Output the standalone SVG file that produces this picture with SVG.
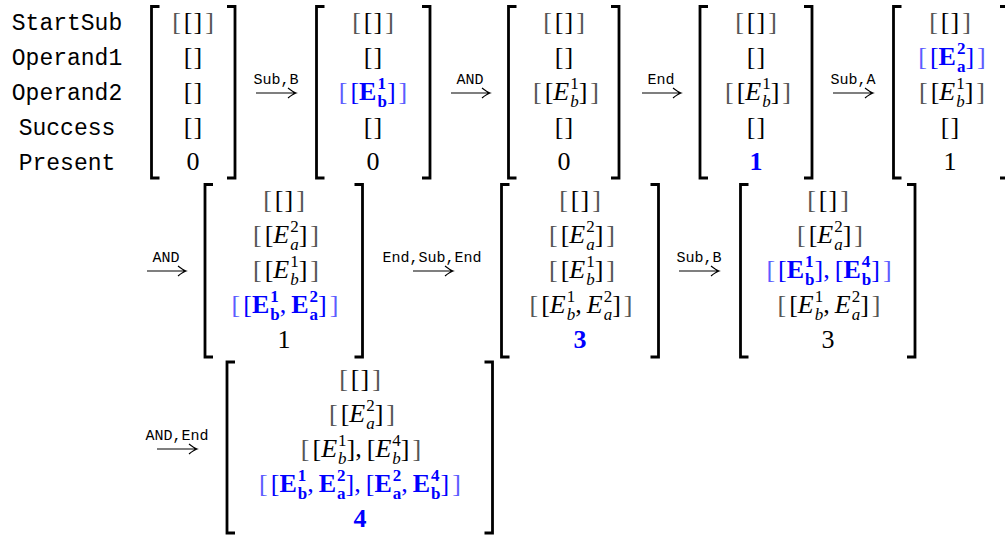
<svg xmlns="http://www.w3.org/2000/svg" width="1005" height="535" viewBox="0 0 1005 535">
<style>
.lb{font-family:"Liberation Mono",monospace;font-size:23px;fill:#000;text-anchor:middle}
.al{font-family:"Liberation Mono",monospace;font-size:15px;fill:#000;text-anchor:middle}
.m{font-family:"Liberation Serif",serif;font-size:26px;fill:#000;text-anchor:middle}
.o{fill:#555}
.blue{fill:#0000ff}
.blue .o{fill:#5c5cff}
.bf{font-weight:bold}
.i{font-style:italic}
.s{font-size:17px}
.br{fill:none;stroke:#000;stroke-width:2.8}
.ar{fill:none;stroke:#000;stroke-width:1.2}
</style>
<rect width="1005" height="535" fill="#fff"/>

<g id="row-labels">
<text class="lb" x="67" y="30">StartSub</text>
<text class="lb" x="67" y="65">Operand1</text>
<text class="lb" x="67" y="100">Operand2</text>
<text class="lb" x="67" y="135">Success</text>
<text class="lb" x="67" y="170">Present</text>
</g>

<g id="connectors">
<path class="ar" d="M256 93H296M288 88Q293 92 296 93Q293 94 288 98"/>
<text class="al" x="276" y="83.5">Sub,B</text>
<path class="ar" d="M451 93H490M482 88Q487 92 490 93Q487 94 482 98"/>
<text class="al" x="470" y="83.5">AND</text>
<path class="ar" d="M642 93H681M673 88Q678 92 681 93Q678 94 673 98"/>
<text class="al" x="661" y="83.5">End</text>
<path class="ar" d="M833 93H873M865 88Q870 92 873 93Q870 94 865 98"/>
<text class="al" x="853" y="83.5">Sub,A</text>
<path class="ar" d="M147 271H186M178 266Q183 270 186 271Q183 272 178 276"/>
<text class="al" x="166" y="262">AND</text>
<path class="ar" d="M413 271H453M445 266Q450 270 453 271Q450 272 445 276"/>
<text class="al" x="432" y="262">End,Sub,End</text>
<path class="ar" d="M679 271H719M711 266Q716 270 719 271Q716 272 711 276"/>
<text class="al" x="699" y="262">Sub,B</text>
<path class="ar" d="M157 449H197M189 444Q194 448 197 449Q194 450 189 454"/>
<text class="al" x="177" y="440">AND,End</text>
</g>

<g id="state-1">
<path class="br" d="M159.5 6.5H151.5V178H159.5M227 6.5H235V178H227"/>
<text class="m" x="193" y="30"><tspan class="o">[</tspan><tspan dx="3">[</tspan><tspan dx="1">]</tspan><tspan class="o" dx="3">]</tspan></text>
<text class="m" x="193" y="65">[<tspan dx="1">]</tspan></text>
<text class="m" x="193" y="100">[<tspan dx="1">]</tspan></text>
<text class="m" x="193" y="135">[<tspan dx="1">]</tspan></text>
<text class="m" x="193" y="170">0</text>
</g>

<g id="state-2">
<path class="br" d="M324.5 6.5H316.5V178H324.5M422 6.5H430V178H422"/>
<text class="m" x="373" y="30"><tspan class="o">[</tspan><tspan dx="3">[</tspan><tspan dx="1">]</tspan><tspan class="o" dx="3">]</tspan></text>
<text class="m" x="373" y="65">[<tspan dx="1">]</tspan></text>
<text class="m blue" x="373" y="100"><tspan class="o">[</tspan><tspan dx="3">[</tspan><tspan class="bf">E</tspan><tspan class="s bf" dx="1" dy="-11">1</tspan><tspan class="s bf" dx="-8.5" dy="18">b</tspan><tspan dy="-7">]</tspan><tspan class="o" dx="3">]</tspan></text>
<text class="m" x="373" y="135">[<tspan dx="1">]</tspan></text>
<text class="m" x="373" y="170">0</text>
</g>

<g id="state-3">
<path class="br" d="M516.5 6.5H508.5V178H516.5M611 6.5H619V178H611"/>
<text class="m" x="564" y="30"><tspan class="o">[</tspan><tspan dx="3">[</tspan><tspan dx="1">]</tspan><tspan class="o" dx="3">]</tspan></text>
<text class="m" x="564" y="65">[<tspan dx="1">]</tspan></text>
<text class="m" x="566" y="100"><tspan class="o">[</tspan><tspan dx="3">[</tspan><tspan class="i">E</tspan><tspan class="s" dx="1" dy="-11">1</tspan><tspan class="s i" dx="-8.5" dy="18">b</tspan><tspan dy="-7">]</tspan><tspan class="o" dx="3">]</tspan></text>
<text class="m" x="564" y="135">[<tspan dx="1">]</tspan></text>
<text class="m" x="564" y="170">0</text>
</g>

<g id="state-4">
<path class="br" d="M708 6.5H700V178H708M804 6.5H812V178H804"/>
<text class="m" x="756" y="30"><tspan class="o">[</tspan><tspan dx="3">[</tspan><tspan dx="1">]</tspan><tspan class="o" dx="3">]</tspan></text>
<text class="m" x="756" y="65">[<tspan dx="1">]</tspan></text>
<text class="m" x="758" y="100"><tspan class="o">[</tspan><tspan dx="3">[</tspan><tspan class="i">E</tspan><tspan class="s" dx="1" dy="-11">1</tspan><tspan class="s i" dx="-8.5" dy="18">b</tspan><tspan dy="-7">]</tspan><tspan class="o" dx="3">]</tspan></text>
<text class="m" x="756" y="135">[<tspan dx="1">]</tspan></text>
<text class="m blue bf" x="756" y="170">1</text>
</g>

<g id="state-5">
<path class="br" d="M901.5 6.5H893.5V178H901.5M1000 6.5H1008V178H1000"/>
<text class="m" x="950" y="30"><tspan class="o">[</tspan><tspan dx="3">[</tspan><tspan dx="1">]</tspan><tspan class="o" dx="3">]</tspan></text>
<text class="m blue" x="952" y="65"><tspan class="o">[</tspan><tspan dx="3">[</tspan><tspan class="bf">E</tspan><tspan class="s bf" dx="1" dy="-11">2</tspan><tspan class="s bf" dx="-8.5" dy="18">a</tspan><tspan dy="-7">]</tspan><tspan class="o" dx="3">]</tspan></text>
<text class="m" x="952" y="100"><tspan class="o">[</tspan><tspan dx="3">[</tspan><tspan class="i">E</tspan><tspan class="s" dx="1" dy="-11">1</tspan><tspan class="s i" dx="-8.5" dy="18">b</tspan><tspan dy="-7">]</tspan><tspan class="o" dx="3">]</tspan></text>
<text class="m" x="950" y="135">[<tspan dx="1">]</tspan></text>
<text class="m" x="950" y="170">1</text>
</g>

<g id="state-6">
<path class="br" d="M213 184.5H205V357H213M354.5 184.5H362.5V357H354.5"/>
<text class="m" x="284" y="208"><tspan class="o">[</tspan><tspan dx="3">[</tspan><tspan dx="1">]</tspan><tspan class="o" dx="3">]</tspan></text>
<text class="m" x="286" y="243"><tspan class="o">[</tspan><tspan dx="3">[</tspan><tspan class="i">E</tspan><tspan class="s" dx="1" dy="-11">2</tspan><tspan class="s i" dx="-8.5" dy="18">a</tspan><tspan dy="-7">]</tspan><tspan class="o" dx="3">]</tspan></text>
<text class="m" x="286" y="278"><tspan class="o">[</tspan><tspan dx="3">[</tspan><tspan class="i">E</tspan><tspan class="s" dx="1" dy="-11">1</tspan><tspan class="s i" dx="-8.5" dy="18">b</tspan><tspan dy="-7">]</tspan><tspan class="o" dx="3">]</tspan></text>
<text class="m blue" x="285" y="313"><tspan class="o">[</tspan><tspan dx="3">[</tspan><tspan class="bf">E</tspan><tspan class="s bf" dx="1" dy="-11">1</tspan><tspan class="s bf" dx="-8.5" dy="18">b</tspan><tspan dy="-7">,</tspan><tspan class="bf" dx="5">E</tspan><tspan class="s bf" dx="1" dy="-11">2</tspan><tspan class="s bf" dx="-8.5" dy="18">a</tspan><tspan dy="-7">]</tspan><tspan class="o" dx="3">]</tspan></text>
<text class="m" x="284" y="348">1</text>
</g>

<g id="state-7">
<path class="br" d="M509.5 184.5H501.5V357H509.5M650.5 184.5H658.5V357H650.5"/>
<text class="m" x="580" y="208"><tspan class="o">[</tspan><tspan dx="3">[</tspan><tspan dx="1">]</tspan><tspan class="o" dx="3">]</tspan></text>
<text class="m" x="582" y="243"><tspan class="o">[</tspan><tspan dx="3">[</tspan><tspan class="i">E</tspan><tspan class="s" dx="1" dy="-11">2</tspan><tspan class="s i" dx="-8.5" dy="18">a</tspan><tspan dy="-7">]</tspan><tspan class="o" dx="3">]</tspan></text>
<text class="m" x="582" y="278"><tspan class="o">[</tspan><tspan dx="3">[</tspan><tspan class="i">E</tspan><tspan class="s" dx="1" dy="-11">1</tspan><tspan class="s i" dx="-8.5" dy="18">b</tspan><tspan dy="-7">]</tspan><tspan class="o" dx="3">]</tspan></text>
<text class="m" x="581" y="313"><tspan class="o">[</tspan><tspan dx="3">[</tspan><tspan class="i">E</tspan><tspan class="s" dx="1" dy="-11">1</tspan><tspan class="s i" dx="-8.5" dy="18">b</tspan><tspan dy="-7">,</tspan><tspan class="i" dx="5">E</tspan><tspan class="s" dx="1" dy="-11">2</tspan><tspan class="s i" dx="-8.5" dy="18">a</tspan><tspan dy="-7">]</tspan><tspan class="o" dx="3">]</tspan></text>
<text class="m blue bf" x="580" y="348">3</text>
</g>

<g id="state-8">
<path class="br" d="M748.5 184.5H740.5V357H748.5M907 184.5H915V357H907"/>
<text class="m" x="828" y="208"><tspan class="o">[</tspan><tspan dx="3">[</tspan><tspan dx="1">]</tspan><tspan class="o" dx="3">]</tspan></text>
<text class="m" x="830" y="243"><tspan class="o">[</tspan><tspan dx="3">[</tspan><tspan class="i">E</tspan><tspan class="s" dx="1" dy="-11">2</tspan><tspan class="s i" dx="-8.5" dy="18">a</tspan><tspan dy="-7">]</tspan><tspan class="o" dx="3">]</tspan></text>
<text class="m blue" x="829" y="278"><tspan class="o">[</tspan><tspan dx="3">[</tspan><tspan class="bf">E</tspan><tspan class="s bf" dx="1" dy="-11">1</tspan><tspan class="s bf" dx="-8.5" dy="18">b</tspan><tspan dy="-7">],</tspan><tspan dx="5">[</tspan><tspan class="bf">E</tspan><tspan class="s bf" dx="1" dy="-11">4</tspan><tspan class="s bf" dx="-8.5" dy="18">b</tspan><tspan dy="-7">]</tspan><tspan class="o" dx="3">]</tspan></text>
<text class="m" x="829" y="313"><tspan class="o">[</tspan><tspan dx="3">[</tspan><tspan class="i">E</tspan><tspan class="s" dx="1" dy="-11">1</tspan><tspan class="s i" dx="-8.5" dy="18">b</tspan><tspan dy="-7">,</tspan><tspan class="i" dx="5">E</tspan><tspan class="s" dx="1" dy="-11">2</tspan><tspan class="s i" dx="-8.5" dy="18">a</tspan><tspan dy="-7">]</tspan><tspan class="o" dx="3">]</tspan></text>
<text class="m" x="828" y="348">3</text>
</g>

<g id="state-9">
<path class="br" d="M235 362H227V533H235M484.5 362H492.5V533H484.5"/>
<text class="m" x="360" y="387"><tspan class="o">[</tspan><tspan dx="3">[</tspan><tspan dx="1">]</tspan><tspan class="o" dx="3">]</tspan></text>
<text class="m" x="362" y="422"><tspan class="o">[</tspan><tspan dx="3">[</tspan><tspan class="i">E</tspan><tspan class="s" dx="1" dy="-11">2</tspan><tspan class="s i" dx="-8.5" dy="18">a</tspan><tspan dy="-7">]</tspan><tspan class="o" dx="3">]</tspan></text>
<text class="m" x="361" y="457"><tspan class="o">[</tspan><tspan dx="3">[</tspan><tspan class="i">E</tspan><tspan class="s" dx="1" dy="-11">1</tspan><tspan class="s i" dx="-8.5" dy="18">b</tspan><tspan dy="-7">],</tspan><tspan dx="5">[</tspan><tspan class="i">E</tspan><tspan class="s" dx="1" dy="-11">4</tspan><tspan class="s i" dx="-8.5" dy="18">b</tspan><tspan dy="-7">]</tspan><tspan class="o" dx="3">]</tspan></text>
<text class="m blue" x="360" y="492"><tspan class="o">[</tspan><tspan dx="3">[</tspan><tspan class="bf">E</tspan><tspan class="s bf" dx="1" dy="-11">1</tspan><tspan class="s bf" dx="-8.5" dy="18">b</tspan><tspan dy="-7">,</tspan><tspan class="bf" dx="5">E</tspan><tspan class="s bf" dx="1" dy="-11">2</tspan><tspan class="s bf" dx="-8.5" dy="18">a</tspan><tspan dy="-7">],</tspan><tspan dx="5">[</tspan><tspan class="bf">E</tspan><tspan class="s bf" dx="1" dy="-11">2</tspan><tspan class="s bf" dx="-8.5" dy="18">a</tspan><tspan dy="-7">,</tspan><tspan class="bf" dx="5">E</tspan><tspan class="s bf" dx="1" dy="-11">4</tspan><tspan class="s bf" dx="-8.5" dy="18">b</tspan><tspan dy="-7">]</tspan><tspan class="o" dx="3">]</tspan></text>
<text class="m blue bf" x="360" y="527">4</text>
</g>
</svg>
